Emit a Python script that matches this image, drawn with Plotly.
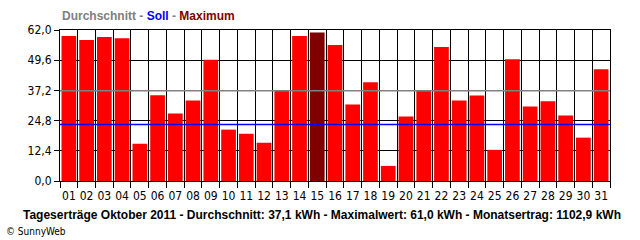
import plotly.graph_objects as go

days = [f"{d:02d}" for d in range(1, 32)]
yields = [59.5, 57.9, 59.1, 58.6, 15.3, 35.2, 27.7, 33.1, 49.8, 21.1,
          19.4, 15.7, 37.2, 59.5, 61.0, 55.8, 31.4, 40.5, 6.2, 26.5,
          37.2, 55.0, 33.1, 35.1, 12.8, 50.0, 30.6, 32.7, 26.9, 17.8, 45.9]
average = 37.1
target = 23.2
maximum = 61.0
month_total = 1102.9
y_ticks = [0.0, 12.4, 24.8, 37.2, 49.6, 62.0]

RED = "#FF0000"
DARK = "#800000"
bar_colors = [DARK if v == max(yields) else RED for v in yields]

NARROW = "Liberation Sans Narrow, DejaVu Sans Condensed, Arial Narrow, sans-serif"

fig = go.Figure()
fig.add_trace(go.Bar(x=days, y=yields, marker=dict(color=bar_colors, line=dict(width=0)),
                     hoverinfo="x+y"))

fig.add_shape(type="line", xref="paper", yref="y", x0=0, x1=1, y0=average, y1=average,
              line=dict(color="#808080", width=1.5), layer="above")
fig.add_shape(type="line", xref="paper", yref="y", x0=0, x1=1, y0=target, y1=target,
              line=dict(color="#0000FF", width=1.5), layer="above")

fig.update_layout(
    width=640, height=240,
    margin=dict(l=60, r=30, t=30, b=59, pad=0),
    paper_bgcolor="white", plot_bgcolor="white",
    separators=",.",
    bargap=0.17,
    showlegend=False,
    font=dict(family=NARROW, size=12, color="black"),
    xaxis=dict(type="category", tickson="boundaries", showgrid=True, gridcolor="black",
               gridwidth=1, ticks="outside", ticklen=6, tickcolor="black", tickwidth=1,
               showline=True, linecolor="black", linewidth=1, mirror=True,
               tickangle=0, tickfont=dict(family=NARROW, size=12), zeroline=False,
               ticklabelstandoff=4,
               range=[-0.5, len(days) - 0.5]),
    yaxis=dict(range=[0, 62], tickvals=y_ticks, tickformat=".1f", showgrid=True,
               gridcolor="black", gridwidth=1, ticks="outside", ticklen=5,
               tickcolor="black", showline=True, linecolor="black", linewidth=1,
               mirror=True, zeroline=False, tickfont=dict(family=NARROW, size=12)),
)

fig.add_annotation(
    xref="paper", yref="paper", x=0, y=1, xanchor="left", yanchor="middle",
    yshift=14, showarrow=False,
    text=("<b><span style='color:#808080'>Durchschnitt - </span>"
          "<span style='color:#0000FF'>Soll</span>"
          "<span style='color:#808080'> - </span>"
          "<span style='color:#800000'>Maximum</span></b>"),
    font=dict(family="Liberation Sans, Arial, sans-serif", size=12),
)

caption = (f"Tageserträge Oktober 2011 - Durchschnitt: {average:.1f} kWh - "
           f"Maximalwert: {maximum:.1f} kWh - Monatsertrag: {month_total:.1f} kWh").replace(".", ",")
fig.add_annotation(
    xref="paper", yref="paper", x=0.5, y=0, xanchor="center", yanchor="middle",
    yshift=-34, xshift=-13, showarrow=False, text=f"<b>{caption}</b>",
    font=dict(family="Liberation Sans, Arial, sans-serif", size=12, color="black"),
)
fig.add_annotation(
    xref="paper", yref="paper", x=0, y=0, xanchor="left", yanchor="middle",
    xshift=-56, yshift=-50, showarrow=False, text="© SunnyWeb",
    font=dict(family=NARROW, size=10, color="black"),
)

fig.write_html("out.html")
